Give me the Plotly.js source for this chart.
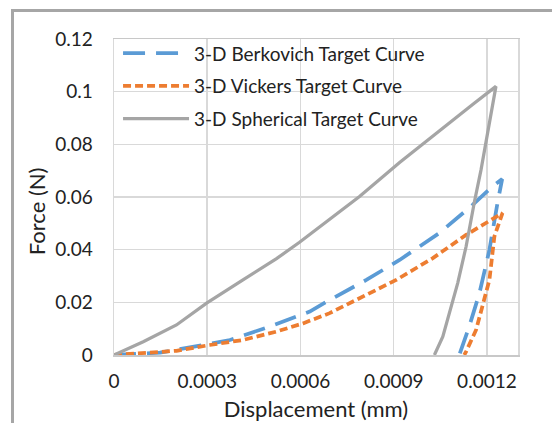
<!DOCTYPE html>
<html>
<head>
<meta charset="utf-8">
<script src="https://cdn.plot.ly/plotly-3.0.1.min.js"></script>
<style>
  html, body { margin: 0; padding: 0; background: #fff; overflow: hidden; }
  #wrap { position: relative; width: 552px; height: 423px; overflow: hidden; }
  #chart { position: absolute; left: 0; top: 0; width: 552px; height: 423px; }
  #frame { position: absolute; left: 11px; top: 9px; width: 700px; height: 600px;
           border: 3px solid #a6a6a6; pointer-events: none; }
</style>
</head>
<body>
<div id="wrap">
  <div id="chart"></div>
  <div id="frame"></div>
</div>
<script>
// Displacement (mm) / Force (N)
const berkovichX = [0, 0.000148, 0.000287, 0.000373, 0.000501, 0.00063, 0.000694, 0.000812, 0.000919, 0.001047, 0.001154, 0.001218, 0.001249,
                    0.001234, 0.001208, 0.001176, 0.001143, 0.001111];
const berkovichY = [0, 0.0009, 0.0038, 0.0057, 0.0108, 0.0165, 0.0209, 0.0285, 0.0361, 0.0463, 0.057, 0.064, 0.0668,
                    0.0577, 0.0399, 0.0235, 0.0108, 0];

const vickersX = [0, 0.000201, 0.000308, 0.000415, 0.000523, 0.000608, 0.000694, 0.000908, 0.001026, 0.001133, 0.00125,
                  0.001224, 0.001208, 0.001186, 0.001165, 0.001133, 0.001127];
const vickersY = [0, 0.0016, 0.0038, 0.0057, 0.0089, 0.012, 0.0159, 0.0285, 0.0368, 0.0456, 0.0539,
                  0.045, 0.0285, 0.0184, 0.0095, 0.0013, 0];

const sphericalX = [0, 0.0000941, 0.000201, 0.000298, 0.000415, 0.000523, 0.000597, 0.000694, 0.00079, 0.000919, 0.001047, 0.001154, 0.001229,
                    0.001181, 0.00116, 0.001133, 0.001106, 0.001079, 0.001058, 0.001031];
const sphericalY = [0, 0.00506, 0.0114, 0.0197, 0.0285, 0.0366, 0.0428, 0.0514, 0.0602, 0.0731, 0.0853, 0.0951, 0.102,
                    0.0703, 0.0583, 0.0412, 0.0273, 0.0159, 0.007, 0];

const seriesNames = ['3-D Berkovich Target Curve', '3-D Vickers Target Curve', '3-D Spherical Target Curve'];
const xTicks = [0, 0.0003, 0.0006, 0.0009, 0.0012];
const xTickText = ['0', '0.0003', '0.0006', '0.0009', '0.0012'];
const yTicks = [0, 0.02, 0.04, 0.06, 0.08, 0.1, 0.12];
const yTickText = ['0', '0.02', '0.04', '0.06', '0.08', '0.1', '0.12'];

const FONT = 'Lato, "Open Sans", sans-serif';
const TXT = '#222222';
const traces = [
  { x: berkovichX, y: berkovichY, name: seriesNames[0], legendgroup: 'a', mode: 'lines',
    line: { color: '#5b9bd5', width: 3.75, dash: '22px,11px' } },
  { x: vickersX, y: vickersY, name: seriesNames[1], legendgroup: 'b', mode: 'lines',
    line: { color: '#ed7d31', width: 3.75, dash: '8px,4px' } },
  { x: sphericalX, y: sphericalY, name: seriesNames[2], legendgroup: 'c', mode: 'lines',
    line: { color: '#a5a5a5', width: 3.25 } }
];

const layout = {
  width: 552, height: 423,
  margin: { l: 114, r: 34, t: 39, b: 68 },
  paper_bgcolor: '#ffffff', plot_bgcolor: '#ffffff',
  font: { family: FONT, size: 19, color: TXT },
  showlegend: true,
  legend: {
    x: 0.01, y: 1.015, xanchor: 'left', yanchor: 'top',
    bgcolor: 'rgba(255,255,255,0)', borderwidth: 0,
    font: { family: FONT, size: 19, color: TXT },
    itemwidth: 66, traceorder: 'grouped', tracegroupgap: 5
  },
  xaxis: {
    range: [0, 0.0013], tickvals: xTicks, ticktext: xTickText,
    showgrid: true, gridcolor: '#d9d9d9', gridwidth: 1.5,
    showline: true, linecolor: '#c8c8c8', linewidth: 1.5, mirror: true,
    zeroline: false, ticks: '', ticklabelstandoff: 9,
    tickfont: { family: FONT, size: 19, color: TXT },
    title: { text: 'Displacement (mm)', font: { family: FONT, size: 22, color: TXT }, standoff: 10 }
  },
  yaxis: {
    range: [0, 0.12], tickvals: yTicks, ticktext: yTickText,
    showgrid: true, gridcolor: '#d9d9d9', gridwidth: 1.5,
    showline: true, linecolor: '#d9d9d9', linewidth: 1.5, mirror: true,
    zeroline: false, ticks: '', ticklabelstandoff: 16,
    tickfont: { family: FONT, size: 19, color: TXT }
  },
  annotations: [{
    text: 'Force (N)', textangle: -90, showarrow: false,
    xref: 'paper', yref: 'paper', x: -0.19, y: 0.456, xanchor: 'center', yanchor: 'middle',
    font: { family: FONT, size: 22, color: TXT }
  }]
};

Plotly.newPlot('chart', traces, layout, { displayModeBar: false, staticPlot: true });
</script>
</body>
</html>
